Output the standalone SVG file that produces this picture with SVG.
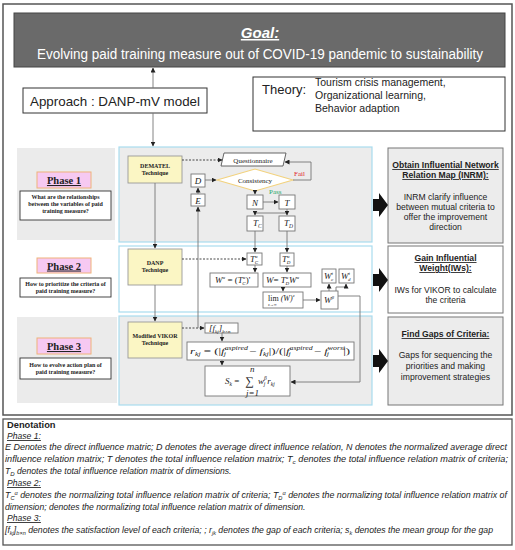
<svg xmlns="http://www.w3.org/2000/svg" width="515" height="550" viewBox="0 0 515 550">
<defs>
<marker id="ah" markerWidth="5" markerHeight="5" refX="4.5" refY="2.5" orient="auto" markerUnits="userSpaceOnUse"><path d="M0,0 L5,2.5 L0,5 z" fill="#222"/></marker>
</defs>
<style>
.s{font-family:"Liberation Sans",Arial,sans-serif}
.r{font-family:"Liberation Serif","Times New Roman",serif}
.flow{stroke:#777;stroke-width:0.9;fill:none}
.dash{stroke:#333;stroke-width:0.9;stroke-dasharray:2,1.5;fill:none}
.bx{fill:#fff;stroke:#777;stroke-width:0.9}
.tech{fill:#fbf6c4;stroke:#999;stroke-width:0.9}
.pink{fill:#f6c9f2;stroke:#f0b27a;stroke-width:1}
.q{fill:#fff;stroke:#333;stroke-width:0.9}
.panel{stroke:#a9dcef;stroke-width:1.2}
.res{stroke:#777;stroke-width:1}
.qt{font-family:"Liberation Serif","Times New Roman",serif;font-weight:bold;font-size:6px;fill:#222}
.pt{font-family:"Liberation Serif","Times New Roman",serif;font-weight:bold;font-size:10.5px;text-decoration:underline;fill:#222}
.tt{font-family:"Liberation Serif","Times New Roman",serif;font-weight:bold;font-size:6px;fill:#222}
.m{font-family:"Liberation Serif","Times New Roman",serif;font-style:italic;font-size:9px;fill:#222}
.rt{font-family:"Liberation Sans",Arial,sans-serif;font-size:8.6px;fill:#222}
.rh{font-family:"Liberation Sans",Arial,sans-serif;font-size:8.6px;font-weight:bold;text-decoration:underline;fill:#222}
.dt{font-family:"Liberation Sans",Arial,sans-serif;font-style:italic;font-size:8.6px;fill:#222}
</style>

<!-- frames -->
<rect x="3" y="4" width="509" height="411" fill="#fff" stroke="#555" stroke-width="1.5"/>
<rect x="3" y="419" width="509" height="126" fill="#fff" stroke="#555" stroke-width="1.3"/>

<g id="goal">
<rect x="14" y="13" width="491" height="54" fill="#6a6a6a" stroke="#444" stroke-width="1"/>
<text x="260" y="38" text-anchor="middle" class="s" font-size="15" font-weight="bold" font-style="italic" text-decoration="underline" fill="#fff">Goal:</text>
<text x="37" y="59" class="s" font-size="14" fill="#fff" textLength="446" lengthAdjust="spacingAndGlyphs">Evolving paid training measure out of COVID-19 pandemic to sustainability</text>
</g>

<g id="approach">
<rect x="23" y="88" width="184" height="25" fill="#fff" stroke="#333" stroke-width="1"/>
<text x="30" y="106" class="s" font-size="13.5" fill="#222" textLength="170" lengthAdjust="spacingAndGlyphs">Approach : DANP-mV model</text>
</g>

<g id="theory">
<rect x="253" y="77" width="252" height="54" fill="#fff" stroke="#333" stroke-width="1"/>
<text x="262" y="94" class="s" font-size="13" fill="#222">Theory:</text>
<text x="315" y="86" class="s" font-size="10.5" fill="#222">Tourism crisis management,</text>
<text x="315" y="99" class="s" font-size="10.5" fill="#222">Organizational learning,</text>
<text x="315" y="112" class="s" font-size="10.5" fill="#222">Behavior adaption</text>
</g>

<!-- phase backgrounds -->
<rect x="17" y="148" width="98" height="92" fill="#ebebeb"/>
<rect x="17" y="317" width="100" height="86" fill="#ebebeb"/>
<rect x="119" y="147" width="253" height="95" fill="#ececec" class="panel"/>
<rect x="119" y="246" width="253" height="66" fill="#fff" class="panel"/>
<rect x="119" y="316" width="253" height="89" fill="#ececec" class="panel"/>

<g id="phase1">
<rect x="37" y="172" width="54" height="16" class="pink"/>
<text x="64" y="184" text-anchor="middle" class="pt">Phase 1</text>
<rect x="20" y="191" width="91" height="29" class="q"/>
<text x="65.5" y="199" text-anchor="middle" class="qt">What are the relationships</text>
<text x="65.5" y="206" text-anchor="middle" class="qt">between the variables of paid</text>
<text x="65.5" y="213" text-anchor="middle" class="qt">training measure?</text>
</g>
<g id="phase2">
<rect x="37" y="258" width="54" height="15" class="pink"/>
<text x="64" y="269.5" text-anchor="middle" class="pt">Phase 2</text>
<rect x="20" y="278" width="91" height="19" class="q"/>
<text x="65.5" y="286" text-anchor="middle" class="qt">How to prioritize the criteria of</text>
<text x="65.5" y="293" text-anchor="middle" class="qt">paid training measure?</text>
</g>
<g id="phase3">
<rect x="37" y="338" width="54" height="16" class="pink"/>
<text x="64" y="350" text-anchor="middle" class="pt">Phase 3</text>
<rect x="20" y="358" width="91" height="21" class="q"/>
<text x="65.5" y="366.5" text-anchor="middle" class="qt">How to evolve action plan of</text>
<text x="65.5" y="373.5" text-anchor="middle" class="qt">paid training measure?</text>
</g>

<g id="dematel">
<rect x="128" y="156" width="54" height="27" class="tech"/>
<text x="155" y="168" text-anchor="middle" class="tt">DEMATEL</text>
<text x="155" y="175" text-anchor="middle" class="tt">Technique</text>
</g>
<g id="danp">
<rect x="128" y="249" width="54" height="36" class="tech"/>
<text x="155" y="265" text-anchor="middle" class="tt">DANP</text>
<text x="155" y="272" text-anchor="middle" class="tt">Technique</text>
</g>
<g id="vikor">
<rect x="128" y="322" width="54" height="36" class="tech"/>
<text x="155" y="338" text-anchor="middle" class="tt">Modified VIKOR</text>
<text x="155" y="345" text-anchor="middle" class="tt">Technique</text>
</g>

<g id="questionnaire">
<polygon points="224,153 286,153 283,166 221,166" fill="#fff" stroke="#555" stroke-width="0.9"/>
<text x="253" y="162.5" text-anchor="middle" class="r" font-size="7" fill="#222">Questionnaire</text>
</g>
<g id="consistency">
<polygon points="217,180 255,169 293,180 255,191" fill="#fff" stroke="#f2d27e" stroke-width="1.1"/>
<text x="255" y="182.5" text-anchor="middle" class="r" font-size="7" fill="#222">Consistency</text>
<text x="294" y="176" class="r" font-size="7" fill="#e0242a">Fail</text>
<text x="269" y="194" class="r" font-size="7" fill="#2aa86a">Pass</text>
</g>
<g id="D"><rect x="191" y="174" width="14" height="13" class="bx"/><text x="198" y="184" text-anchor="middle" class="m">D</text></g>
<g id="E"><rect x="191" y="194" width="14" height="12" class="bx"/><text x="198" y="203.5" text-anchor="middle" class="m">E</text></g>
<g id="N"><rect x="247" y="195" width="16" height="14" class="bx"/><text x="255" y="205.5" text-anchor="middle" class="m">N</text></g>
<g id="T"><rect x="279" y="195" width="16" height="14" class="bx"/><text x="287" y="205.5" text-anchor="middle" class="m">T</text></g>
<g id="Tc"><rect x="247" y="216" width="16" height="15" class="bx"/><text x="253" y="226" class="m">T<tspan font-size="5.5" dy="2">C</tspan></text></g>
<g id="TD"><rect x="279" y="216" width="16" height="15" class="bx"/><text x="284" y="226" class="m">T<tspan font-size="5.5" dy="2">D</tspan></text></g>
<g id="Tca"><rect x="247" y="253" width="15" height="12" class="bx"/><text x="250" y="262" class="m">T<tspan font-size="5" dy="-4">α</tspan><tspan font-size="5" dx="-3" dy="6">C</tspan></text></g>
<g id="TDa"><rect x="280" y="253" width="14" height="13" class="bx"/><text x="282" y="262" class="m">T<tspan font-size="5" dy="-4">α</tspan><tspan font-size="5" dx="-3" dy="6">D</tspan></text></g>
<g id="Wa"><rect x="210" y="273" width="48" height="14" class="bx"/><text x="215" y="283" class="m" font-size="8.5">W<tspan font-size="5" dy="-4">α</tspan><tspan dy="4" font-style="normal"> = (</tspan>T<tspan font-size="5" dy="-4">α</tspan><tspan font-size="5" dx="-3" dy="6">C</tspan><tspan dy="-2" font-style="normal">)'</tspan></text></g>
<g id="W"><rect x="263" y="273" width="48" height="14" class="bx"/><text x="266" y="283" class="m" font-size="8.5">W<tspan font-style="normal">= </tspan>T<tspan font-size="5" dy="-4">α</tspan><tspan font-size="5" dx="-3" dy="6">D</tspan><tspan dy="-2">W</tspan><tspan font-size="5" dy="-4">α</tspan></text></g>
<g id="Wct"><rect x="322" y="269" width="14" height="14" class="bx"/><text x="324" y="279" class="m">W<tspan font-size="5" dy="-4">t</tspan><tspan font-size="5" dx="-2" dy="6">c</tspan></text></g>
<g id="Wdt"><rect x="339" y="269" width="15" height="14" class="bx"/><text x="341" y="279" class="m">W<tspan font-size="5" dy="-4">t</tspan><tspan font-size="5" dx="-2" dy="6">d</tspan></text></g>
<g id="lim"><rect x="263" y="292" width="40" height="16" class="bx"/><text x="268" y="301" class="r" font-size="8" fill="#222">lim <tspan font-style="italic">(W)</tspan><tspan font-size="5" dy="-4" font-style="italic">z</tspan></text><text x="268" y="306" class="r" font-size="4" fill="#222">z→∞</text></g>
<g id="Wb"><rect x="321" y="291" width="17" height="18" class="bx"/><text x="324" y="303" class="m">W<tspan font-size="5" dy="-4">β</tspan></text></g>
<g id="fkj"><rect x="205" y="323" width="33" height="10" class="bx"/><text x="209" y="331" class="m" font-size="8">[f<tspan font-size="5" dy="2">kj</tspan><tspan dy="-2">]</tspan><tspan font-size="5" dy="2">b×n</tspan></text></g>
<g id="rkj"><rect x="187" y="342" width="167" height="18" class="bx"/><text x="190" y="354" class="m" font-size="9" textLength="160" lengthAdjust="spacingAndGlyphs">r<tspan font-size="5.5" dy="2">kj</tspan><tspan dy="-2" font-style="normal"> = (|</tspan>f<tspan font-size="5.5" dy="-4">aspired</tspan><tspan font-size="5.5" dx="-17" dy="6">j</tspan><tspan dx="14" dy="-2" font-style="normal"> − </tspan>f<tspan font-size="5.5" dy="2">kj</tspan><tspan dy="-2" font-style="normal">|)/(|</tspan>f<tspan font-size="5.5" dy="-4">aspired</tspan><tspan font-size="5.5" dx="-17" dy="6">j</tspan><tspan dx="14" dy="-2" font-style="normal"> − </tspan>f<tspan font-size="5.5" dy="-4">worst</tspan><tspan font-size="5.5" dx="-13" dy="6">j</tspan><tspan dx="10" dy="-2" font-style="normal">|)</tspan></text></g>
<g id="Sk"><rect x="205" y="366" width="85" height="30" class="bx"/><text x="225" y="384" class="m" font-size="9">S<tspan font-size="5.5" dy="2">k</tspan><tspan dy="-2" font-style="normal"> = </tspan></text><text x="245" y="385" class="r" font-size="12" fill="#222">∑</text><text x="250" y="372" class="m" font-size="5.5">n</text><text x="246" y="395.5" class="m" font-size="5.5">j=1</text><text x="258" y="384" class="m" font-size="9">w<tspan font-size="5.5" dy="-4">β</tspan><tspan font-size="5.5" dx="-3" dy="6">j</tspan><tspan dx="2" dy="-2">r</tspan><tspan font-size="5.5" dy="2">kj</tspan></text></g>

<g id="results">
<rect x="388" y="148" width="115" height="95" fill="#ececec" class="res"/>
<text x="445.5" y="168" text-anchor="middle" class="rh">Obtain Influential Network</text>
<text x="445.5" y="178" text-anchor="middle" class="rh">Relation Map (INRM):</text>
<text x="445.5" y="200" text-anchor="middle" class="rt">INRM clarify influence</text>
<text x="445.5" y="210" text-anchor="middle" class="rt">between mutual criteria to</text>
<text x="445.5" y="220" text-anchor="middle" class="rt">offer the improvement</text>
<text x="445.5" y="230" text-anchor="middle" class="rt">direction</text>
<rect x="388" y="246" width="115" height="67" fill="#fff" class="res"/>
<text x="445.5" y="261" text-anchor="middle" class="rh">Gain Influential</text>
<text x="445.5" y="271" text-anchor="middle" class="rh">Weight(IWs):</text>
<text x="445.5" y="293" text-anchor="middle" class="rt">IWs for VIKOR to calculate</text>
<text x="445.5" y="303" text-anchor="middle" class="rt">the criteria</text>
<rect x="388" y="317" width="115" height="88" fill="#ececec" class="res"/>
<text x="445.5" y="337" text-anchor="middle" class="rh">Find Gaps of Criteria:</text>
<text x="445.5" y="358" text-anchor="middle" class="rt">Gaps for sequencing the</text>
<text x="445.5" y="369" text-anchor="middle" class="rt">priorities and making</text>
<text x="445.5" y="380" text-anchor="middle" class="rt">improvement strategies</text>
</g>

<g id="connectors">
<line x1="153" y1="88" x2="153" y2="68" class="flow" marker-end="url(#ah)"/>
<line x1="153" y1="113" x2="153" y2="146" class="flow" marker-end="url(#ah)"/>
<line x1="155" y1="183" x2="155" y2="248" class="flow" marker-end="url(#ah)"/>
<line x1="155" y1="285" x2="155" y2="321" class="flow" marker-end="url(#ah)"/>
<line x1="182" y1="160" x2="222" y2="160" class="dash" marker-end="url(#ah)"/>
<line x1="182" y1="259" x2="246" y2="259" class="dash" marker-end="url(#ah)"/>
<line x1="182" y1="328" x2="204" y2="328" class="dash" marker-end="url(#ah)"/>
<line x1="205" y1="180" x2="216" y2="180" class="flow" marker-end="url(#ah)"/>
<line x1="198" y1="194" x2="198" y2="188" class="flow" marker-end="url(#ah)"/>
<polyline points="198,328 198,207" class="flow" marker-end="url(#ah)"/>
<polyline points="293,180 311,180 311,162 285,162" class="flow" marker-end="url(#ah)"/>
<line x1="255" y1="191" x2="255" y2="194" class="flow" marker-end="url(#ah)"/>
<line x1="263" y1="202" x2="278" y2="202" class="flow" marker-end="url(#ah)"/>
<polyline points="287,209 287,213 255,213 255,215" class="flow" marker-end="url(#ah)"/>
<line x1="287" y1="213" x2="287" y2="215" class="flow" marker-end="url(#ah)"/>
<line x1="255" y1="231" x2="255" y2="252" class="flow" marker-end="url(#ah)"/>
<line x1="287" y1="231" x2="287" y2="252" class="flow" marker-end="url(#ah)"/>
<line x1="255" y1="265" x2="255" y2="272" class="flow" marker-end="url(#ah)"/>
<line x1="287" y1="266" x2="287" y2="272" class="flow" marker-end="url(#ah)"/>
<line x1="283" y1="287" x2="283" y2="291" class="flow" marker-end="url(#ah)"/>
<line x1="303" y1="300" x2="320" y2="300" class="flow" marker-end="url(#ah)"/>
<line x1="329" y1="291" x2="329" y2="284" class="flow" marker-end="url(#ah)"/>
<polyline points="336,291 336,287 346,287 346,284" class="flow" marker-end="url(#ah)"/>
<polyline points="338,296 360,296 360,382 291,382" class="flow" marker-end="url(#ah)"/>
<line x1="222" y1="333" x2="222" y2="341" class="flow" marker-end="url(#ah)"/>
<line x1="222" y1="360" x2="222" y2="365" class="flow" marker-end="url(#ah)"/>
<polygon points="373,199 379,199 379,193 388,205 379,217 379,211 373,211" fill="#111"/>
<polygon points="373,274 379,274 379,268 388,280 379,292 379,286 373,286" fill="#111"/>
<polygon points="373,355 379,355 379,349 388,361 379,373 379,367 373,367" fill="#111"/>
</g>

<g id="denotation">
<text x="7" y="428" class="s" font-size="9.3" font-weight="bold" fill="#222">Denotation</text>
<text x="7" y="439" class="dt" text-decoration="underline">Phase 1:</text>
<text x="5" y="450" class="dt" textLength="502" lengthAdjust="spacingAndGlyphs">E Denotes the direct influence matric; D denotes the average direct influence relation, N denotes the normalized average direct</text>
<text x="5" y="462" class="dt" textLength="503" lengthAdjust="spacingAndGlyphs">influence relation matrix; T denotes the total influence relation  matrix; T<tspan font-size="6" dy="2">c</tspan><tspan dy="-2"> denotes the total influence relation  matrix of criteria;</tspan></text>
<text x="5" y="474" class="dt">T<tspan font-size="6" dy="2">D</tspan><tspan dy="-2"> denotes the total influence relation matrix of dimensions.</tspan></text>
<text x="7" y="486" class="dt" text-decoration="underline">Phase 2:</text>
<text x="5" y="498" class="dt" textLength="502" lengthAdjust="spacingAndGlyphs">T<tspan font-size="5.5" dy="2">C</tspan><tspan font-size="5.5" dy="-5">α</tspan><tspan dy="3"> denotes the normalizing total influence relation matrix of criteria; T</tspan><tspan font-size="5.5" dy="2">D</tspan><tspan font-size="5.5" dy="-5">α</tspan><tspan dy="3"> denotes the normalizing total influence relation matrix of</tspan></text>
<text x="5" y="510" class="dt">dimension; denotes the normalizing total influence relation matrix of dimension.</text>
<text x="7" y="521" class="dt" text-decoration="underline">Phase 3:</text>
<text x="5" y="533" class="dt" textLength="488" lengthAdjust="spacingAndGlyphs">[f<tspan font-size="5.5" dy="2">kj</tspan><tspan dy="-2">]</tspan><tspan font-size="5.5" dy="2">b×n</tspan><tspan dy="-2"> denotes the satisfaction level of each criteria; ; r</tspan><tspan font-size="5.5" dy="2">jk</tspan><tspan dy="-2"> denotes the gap of each criteria; s</tspan><tspan font-size="5.5" dy="2">k</tspan><tspan dy="-2"> denotes the mean group for the gap</tspan></text>
</g>
</svg>
